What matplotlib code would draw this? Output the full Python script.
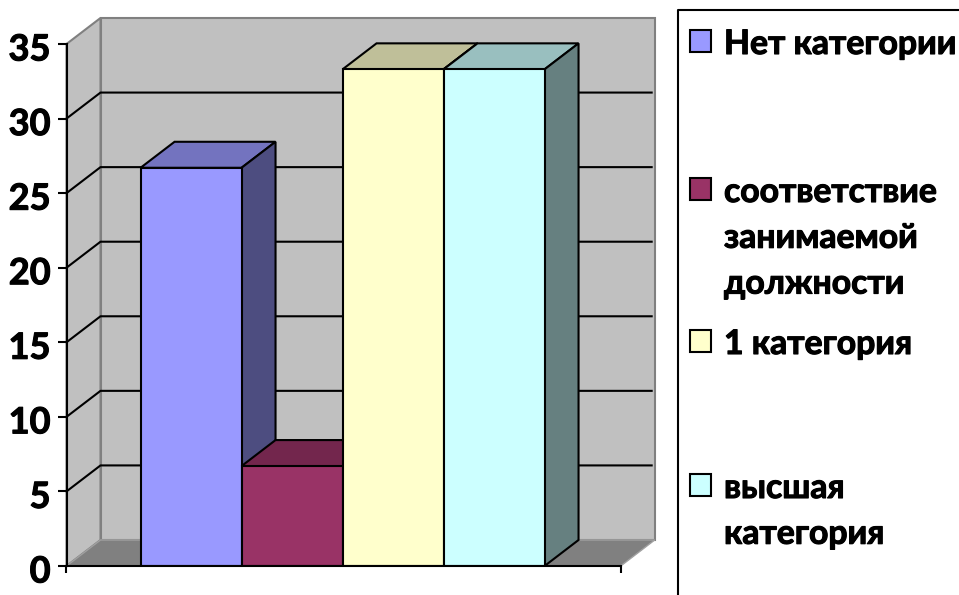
import matplotlib
matplotlib.use('Agg')
import matplotlib.pyplot as plt
import matplotlib.patheffects as pe
from matplotlib.patches import Rectangle
from matplotlib.transforms import ScaledTranslation

categories = ['Нет категории', 'соответствие\nзанимаемой\nдолжности', '1 категория', 'высшая\nкатегория']
values = [26.7, 6.7, 33.3, 33.3]
front_colors = ['#9999FF', '#993366', '#FFFFCC', '#CCFFFF']
top_colors = ['#7373BF', '#73264D', '#BFBF99', '#99BFBF']
side_colors = ['#4D4D80', '#4D1A33', '#808066', '#668080']
y_ticks = [0, 5, 10, 15, 20, 25, 30, 35]

plt.rcParams['font.family'] = ['Lato', 'Open Sans', 'DejaVu Sans']
W, H = 959, 595
fig = plt.figure(figsize=(W / 100, H / 100), dpi=100)

# chart area, in pixels of the picture
left, right, bottom, top = 66.5, 620.7, 566, 44
ax = fig.add_axes([left / W, 1 - bottom / H, (right - left) / W, (bottom - top) / H])
x0, x1 = -1.233, 4.254
ax.set_xlim(x0, x1)
ax.set_ylim(0, 35)
ax.patch.set_visible(False)

# depth of the fake 3d
dx = 34 / 101
dy = 26 / 14.91

# walls
ax.fill([x0 + dx, x1 + dx, x1 + dx, x0 + dx], [dy, dy, 35 + dy, 35 + dy],
        fc='#C0C0C0', ec='#808080', lw=1.5, clip_on=False, zorder=1)
ax.fill([x0, x0 + dx, x0 + dx, x0], [0, dy, 35 + dy, 35],
        fc='#C0C0C0', ec='#808080', lw=1.5, clip_on=False, zorder=1)
ax.fill([x0, x1, x1 + dx, x0 + dx], [0, 0, dy, dy],
        fc='#808080', ec='#A0A0A0', lw=1, clip_on=False, zorder=1)

# grid
for t in y_ticks[1:-1]:
    ax.plot([x0, x0 + dx, x1 + dx - 0.03], [t, t + dy, t + dy], color='black', lw=1.5,
            clip_on=False, zorder=2)

# bars, left to right so the next one covers the side of the previous
for i, v in enumerate(values):
    l, r = i - 0.5, i + 0.5
    z = 3 + i
    ax.fill([l, r, r + dx, l + dx], [v, v, v + dy, v + dy], fc=top_colors[i],
            ec='black', lw=1.5, clip_on=False, zorder=z)
    ax.fill([r, r + dx, r + dx, r], [0, dy, v + dy, v], fc=side_colors[i],
            ec='black', lw=1.5, clip_on=False, zorder=z)
    ax.bar(i, v, width=1, color=front_colors[i], edgecolor='black', lw=1.5, zorder=z)

for s in ['top', 'right']:
    ax.spines[s].set_visible(False)
for s in ['left', 'bottom']:
    ax.spines[s].set_linewidth(1.5)
    ax.spines[s].set_zorder(10)
ax.set_yticks(y_ticks)
ax.set_xticks([x0, x1])
ax.set_xticklabels([])
ax.tick_params(axis='y', length=6.5, width=1.5, pad=5, labelsize=26)
ax.tick_params(axis='x', length=5, width=1.5)
thick = [pe.withStroke(linewidth=0.8, foreground='black')]
shift = ScaledTranslation(0, -3 / 100, fig.dpi_scale_trans)
for lab in ax.get_yticklabels():
    lab.set_fontweight('bold')
    lab.set_path_effects(thick)
    lab.set_transform(lab.get_transform() + shift)

# legend is spaced unevenly, so it is placed by hand
lg = fig.add_axes([0, 0, 1, 1])
lg.set_xlim(0, W)
lg.set_ylim(H, 0)
lg.axis('off')
lg.patch.set_visible(False)
lg.plot([678, 678, W], [H, 9.5, 9.5], color='black', lw=1.5, clip_on=False)
item_y = [41, 189, 341, 485]
for c, lab, y in zip(front_colors, categories, item_y):
    lg.add_patch(Rectangle((690, y - 11), 21, 22, fc=c, ec='black', lw=1.5))
    lg.text(724, y - 13, lab, fontsize=24.3, fontweight='bold', va='top', ha='left',
            linespacing=1.53, path_effects=thick)

fig.savefig('out.png', dpi=100)
